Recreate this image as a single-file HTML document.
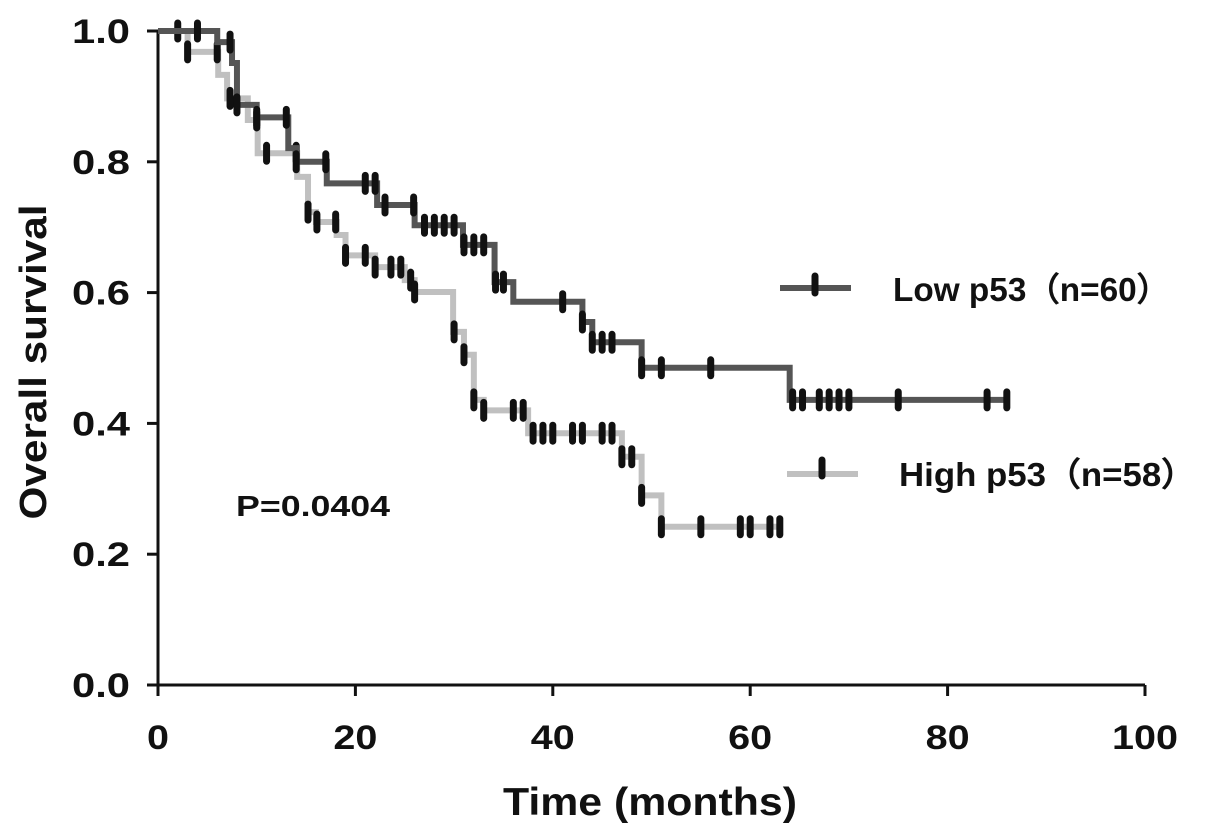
<!DOCTYPE html>
<html><head><meta charset="utf-8"><style>
html,body{margin:0;padding:0;background:#fff;}
svg{display:block;font-family:"Liberation Sans",Arial,sans-serif;font-weight:bold;}
</style></head><body>
<svg id="chart" width="1205" height="836" viewBox="0 0 1205 836">
<g id="axes"></g>
<g id="series"></g>
<g id="legend">
  <line x1="780" y1="288" x2="851" y2="288" stroke="#555" stroke-width="6"/>
  <line x1="815" y1="276" x2="815" y2="293" stroke="#111" stroke-width="7" stroke-linecap="round"/>
  <text x="893" y="301" font-size="33" fill="#111" textLength="277" lengthAdjust="spacingAndGlyphs">Low p53（n=60）</text>
  <line x1="787" y1="474" x2="858" y2="474" stroke="#c0c0c0" stroke-width="6"/>
  <line x1="822" y1="460" x2="822" y2="476" stroke="#111" stroke-width="7" stroke-linecap="round"/>
  <text x="899" y="486" font-size="33" fill="#111" textLength="297" lengthAdjust="spacingAndGlyphs">High p53（n=58）</text>
</g>
<text x="236" y="516" font-size="29" fill="#111" textLength="154" lengthAdjust="spacingAndGlyphs">P=0.0404</text>
<text x="650" y="815" font-size="39" fill="#111" text-anchor="middle" textLength="294" lengthAdjust="spacingAndGlyphs">Time (months)</text>
<text x="0" y="0" font-size="38" fill="#111" text-anchor="middle" textLength="315" lengthAdjust="spacingAndGlyphs" transform="translate(46,362) rotate(-90)">Overall survival</text>
</svg>
<script>
const xTicks = [0, 20, 40, 60, 80, 100];
const yTicks = [0.0, 0.2, 0.4, 0.6, 0.8, 1.0];
const lowStepTimes = [0, 6, 7.5, 8, 10, 13.2, 14, 17.1, 22.2, 26, 30.9, 34.1, 36, 43, 44, 49, 64];
const lowStepVals = [1.0, 0.983, 0.951, 0.887, 0.868, 0.821, 0.80, 0.767, 0.734, 0.703, 0.673, 0.616, 0.586, 0.555, 0.524, 0.485, 0.436];
const lowEnd = 86;
const lowCensor = [4, 7.3, 8, 10, 13, 14, 17, 21, 22, 23, 25.9, 27, 28, 29, 30, 31, 32, 33, 34.2, 35, 41, 43, 44, 45, 46, 49, 51, 56, 64.3, 65.3, 67, 68, 69, 70, 75, 84, 86];
const highStepTimes = [0, 3, 6.1, 7, 9.1, 10.1, 14.1, 15.2, 16, 18.1, 19, 22, 25, 26, 29.9, 31, 32, 33, 37.5, 47, 49, 51];
const highStepVals = [1.0, 0.968, 0.933, 0.897, 0.864, 0.813, 0.777, 0.723, 0.708, 0.688, 0.657, 0.639, 0.619, 0.601, 0.54, 0.505, 0.436, 0.42, 0.385, 0.349, 0.29, 0.242];
const highEnd = 63;
const highCensor = [2, 3, 6, 7.3, 10, 11, 14, 15.2, 16.1, 18, 19, 21, 22, 23.6, 24.6, 25.6, 26, 30, 31, 32, 33, 36, 37, 38, 39, 40, 42, 43, 45, 46, 47, 48, 49, 51, 55, 59, 60, 62, 63];

const NS = "http://www.w3.org/2000/svg";
const X0 = 158, X1 = 1145, Y0 = 685, Y1 = 31;
function sx(t){ return X0 + t/100*(X1-X0); }
function sy(v){ return Y0 - v*(Y0-Y1); }
function mk(tag, attrs, parent){ const e=document.createElementNS(NS,tag); for(const k in attrs) e.setAttribute(k,attrs[k]); parent.appendChild(e); return e; }

const axes = document.getElementById('axes');
let yl = mk('line',{x1:X0,y1:Y1-1,x2:X0,y2:Y0+1,stroke:'#111','stroke-width':3},axes);


let xl = mk('line',{x1:X0-1,y1:Y0,x2:X1,y2:Y0,stroke:'#111','stroke-width':3},axes);


yTicks.forEach(v=>{
  const tk = mk('line',{x1:X0-11,y1:sy(v),x2:X0,y2:sy(v),stroke:'#111','stroke-width':3},axes);
  
  
  const lb = mk('text',{x:X0-28,y:sy(v)+12,'font-size':34,'text-anchor':'end',fill:'#111',textLength:58,lengthAdjust:'spacingAndGlyphs'},axes);
  lb.textContent = v.toFixed(1);
  
  
});
xTicks.forEach(t=>{
  const s = String(t);
  const tk = mk('line',{x1:sx(t),y1:Y0,x2:sx(t),y2:Y0+11,stroke:'#111','stroke-width':3},axes);
  
  
  const lb = mk('text',{x:sx(t),y:Y0+64,'font-size':34,'text-anchor':'middle',fill:'#111',textLength:22*s.length,lengthAdjust:'spacingAndGlyphs'},axes);
  lb.textContent = s;
  
  
});

function valAt(times, vals, t){ let v=vals[0]; for(let i=0;i<times.length;i++){ if(times[i]<=t) v=vals[i]; } return v; }
const series = document.getElementById('series');
function drawSeries(times, vals, end, censor, color, name){
  const g = mk('g',{},series);
  
  
  let d = 'M'+sx(times[0])+','+sy(vals[0]);
  for(let i=1;i<times.length;i++){ d+=' H'+sx(times[i])+' V'+sy(vals[i]); }
  d += ' H'+sx(end);
  const p = mk('path',{d:d,fill:'none',stroke:color,'stroke-width':6,'stroke-linejoin':'miter'},g);
  
  
  censor.forEach(t=>{
    const y = sy(valAt(times, vals, t));
    const c = mk('line',{x1:sx(t),y1:y-8,x2:sx(t),y2:y+8,stroke:'#111','stroke-width':7,'stroke-linecap':'round'},g);
    
    
  });
}
drawSeries(highStepTimes, highStepVals, highEnd, highCensor, '#c0c0c0', 'high-p53');
drawSeries(lowStepTimes, lowStepVals, lowEnd, lowCensor, '#555555', 'low-p53');
</script>
</body></html>
